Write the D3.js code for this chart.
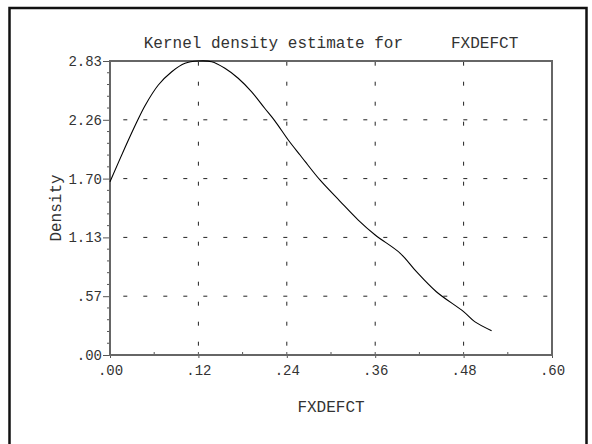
<!DOCTYPE html>
<html>
<head>
<meta charset="utf-8">
<script src="https://cdn.jsdelivr.net/npm/d3@7"></script>
<style>
    body { margin: 0; background: #fff; }
    svg text { font-family: "Liberation Mono", "Courier New", monospace; fill: #333; }
</style>
</head>
<body>
<div id="chart"></div>
<script>
"use strict";

// values
const fxdefct = [0, .0204, .0362, .0475, .0656, .0838, .1018, .1199, .138, .156, .174, .192, .210, .224, .242, .258, .265, .285, .312, .337, .360, .394, .416, .443, .480, .495, .518];
const density = [1.668, 1.997, 2.24, 2.40, 2.599, 2.727, 2.808, 2.83, 2.823, 2.760, 2.664, 2.535, 2.375, 2.252, 2.070, 1.925, 1.861, 1.685, 1.482, 1.299, 1.155, 0.979, 0.802, 0.609, 0.417, 0.321, 0.234];

const xTicks = [0, .12, .24, .36, .48, .60];
const xTickLabels = [".00", ".12", ".24", ".36", ".48", ".60"];
const xMinor = [.06, .18, .30, .42, .54];
const yMax = 2.83;
const yTickLabels = [".00", ".57", "1.13", "1.70", "2.26", "2.83"];

const width = 592, height = 444;
const margin = { left: 110, top: 61, right: 40, bottom: 89 };

const svg = d3.select("#chart").append("svg")
    .attr("width", width)
    .attr("height", height);

// outer frame (bottom edge falls outside the picture)
svg.append("rect")
    .attr("x", 9.5).attr("y", 8)
    .attr("width", 577).attr("height", 460)
    .attr("fill", "none")
    .attr("stroke", "#111")
    .attr("stroke-width", 2.5);

const x = d3.scaleLinear().domain([0, .6]).range([margin.left, width - margin.right]);
const y = d3.scaleLinear().domain([0, yMax]).range([height - margin.bottom, margin.top]);

const yTicks = yTickLabels.map((_, i) => yMax * i / 5);
const yMinor = d3.range(26).map(i => yMax * i / 25).filter((_, i) => i % 5 != 0);

const x0 = x(0), x1 = x(.6), y0 = y(0), y1 = y(yMax);

// grid
svg.append("g")
    .selectAll("line")
    .data(yTicks.slice(1, 5))
    .join("line")
    .attr("x1", x0).attr("x2", x1)
    .attr("y1", d => y(d)).attr("y2", d => y(d))
    .attr("stroke", "#222")
    .attr("stroke-dasharray", "4,16")
    .attr("stroke-dashoffset", 6.7);

svg.append("g")
    .selectAll("line")
    .data(xTicks.slice(1, 5))
    .join("line")
    .attr("x1", d => x(d)).attr("x2", d => x(d))
    .attr("y1", y1).attr("y2", y0)
    .attr("stroke", "#222")
    .attr("stroke-dasharray", "4,16")
    .attr("stroke-dashoffset", -0.7);

// left axis
const yAxis = d3.axisLeft(y)
    .tickValues(yTicks)
    .tickFormat((d, i) => yTickLabels[i])
    .tickSize(7)
    .tickPadding(1);
const gy = svg.append("g").attr("transform", `translate(${x0},0)`).call(yAxis);
gy.select(".domain").remove();
gy.selectAll("line").attr("stroke", "#555");
gy.selectAll("text").attr("font-size", 14).attr("font-family", null);

svg.append("g")
    .selectAll("line")
    .data(yMinor)
    .join("line")
    .attr("x1", x0 - 3).attr("x2", x0)
    .attr("y1", d => y(d)).attr("y2", d => y(d))
    .attr("stroke", "#555");

// bottom axis
const xAxis = d3.axisBottom(x)
    .tickValues(xTicks)
    .tickFormat((d, i) => xTickLabels[i])
    .tickSize(3)
    .tickPadding(7);
const gx = svg.append("g").attr("transform", `translate(0,${y0})`).call(xAxis);
gx.select(".domain").remove();
gx.selectAll("line").attr("stroke", "#555");
gx.selectAll("text").attr("font-size", 14).attr("font-family", null);

svg.append("g")
    .selectAll("line")
    .data(xTicks.concat(xMinor))
    .join("line")
    .attr("x1", d => x(d)).attr("x2", d => x(d))
    .attr("y1", y0 - 3).attr("y2", y0)
    .attr("stroke", "#555");

// plot frame
svg.append("rect")
    .attr("x", x0).attr("y", y1)
    .attr("width", x1 - x0).attr("height", y0 - y1)
    .attr("fill", "none")
    .attr("stroke", "#666")
    .attr("stroke-width", 2);

// density curve
const line = d3.line()
    .x((d, i) => x(fxdefct[i]))
    .y(d => y(d))
    .curve(d3.curveCatmullRom.alpha(0.5));

svg.append("path")
    .attr("d", line(density))
    .attr("fill", "none")
    .attr("stroke", "#000")
    .attr("stroke-width", 1.1);

// titles
svg.append("text")
    .attr("x", (x0 + x1) / 2).attr("y", 48)
    .attr("text-anchor", "middle")
    .attr("font-size", 16)
    .style("white-space", "pre")
    .text("Kernel density estimate for     FXDEFCT");

svg.append("text")
    .attr("x", (x0 + x1) / 2).attr("y", 412)
    .attr("text-anchor", "middle")
    .attr("font-size", 16)
    .text("FXDEFCT");

svg.append("text")
    .attr("transform", `translate(61,${(y0 + y1) / 2}) rotate(-90)`)
    .attr("text-anchor", "middle")
    .attr("font-size", 16)
    .text("Density");
</script>
</body>
</html>
